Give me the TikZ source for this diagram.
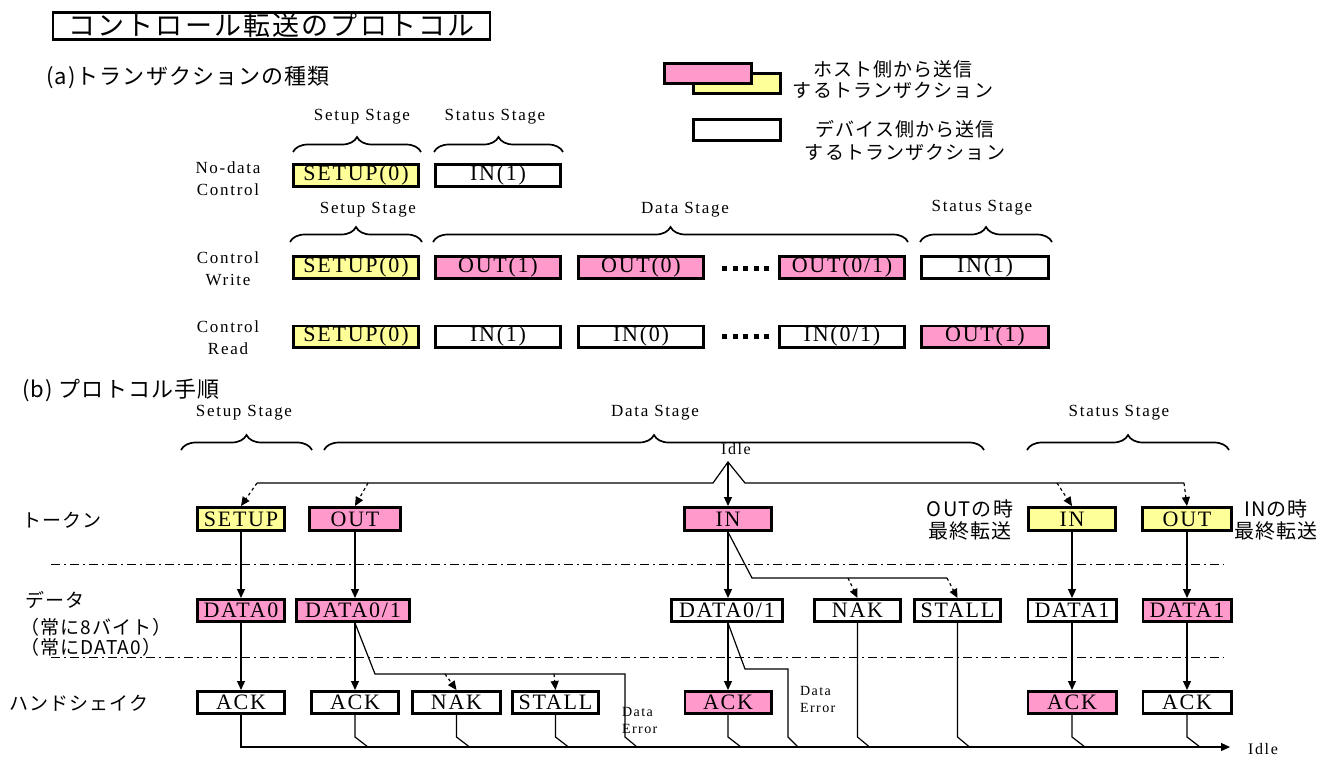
\documentclass[tikz,border=0pt]{standalone}
\usepackage{fontspec}
\setmainfont{Liberation Serif}
\newfontfamily\jpt{Noto Sans CJK JP}[LetterSpace=8]
\newfontfamily\jpa{Noto Sans CJK JP}[LetterSpace=5]
\newfontfamily\jpb{Noto Sans CJK JP}[LetterSpace=6]
\newfontfamily\lsf{Liberation Serif}[LetterSpace=10]
\newfontfamily\bxf{Liberation Serif}[LetterSpace=8]
\usetikzlibrary{arrows.meta,decorations.pathreplacing}
\definecolor{pinkf}{HTML}{FF99CC}
\definecolor{yellowf}{HTML}{FFFF99}
\tikzset{
  bx/.style={draw, line width=2.8pt, inner sep=0pt, font=\bxf\fontsize{22}{24}\selectfont},
  hostp/.style={bx, fill=pinkf},
  hosty/.style={bx, fill=yellowf},
  dev/.style={bx, fill=white},
  wh/.style 2 args={minimum width=#1pt-2.8pt, minimum height=#2pt-2.8pt},
  stagelbl/.style={font=\lsf\fontsize{17}{19}\selectfont, inner sep=0pt},
  rowlbl/.style={font=\lsf\fontsize{17}{22}\selectfont, align=center, inner sep=0pt},
  jplbl/.style={font=\jpb\fontsize{19}{21}\selectfont, inner sep=0pt, anchor=west},
  smalllbl/.style={font=\lsf\fontsize{14}{17}\selectfont, inner sep=0pt, align=left, anchor=west},
  brc/.style={decorate, decoration={brace, amplitude=15pt}, line width=1.7pt},
  conn/.style={line width=1.2pt},
  arr/.style={conn, -{Triangle[length=9pt,width=8pt]}},
  darr/.style={conn, dashed, -{Triangle[length=9pt,width=8pt]}},
  sep/.style={line width=1pt, dash pattern=on 9pt off 4pt on 2pt off 4pt},
  dots/.style={line width=5pt, dash pattern=on 5pt off 5.5pt},
}
\begin{document}
\begin{tikzpicture}[x=1pt,y=-1pt]
\useasboundingbox (0,0) rectangle (1325,756);
\fill[white] (0,0) rectangle (1325,756);

% ---------- title ----------
\node[draw, line width=2.4pt, minimum width=437pt, minimum height=27pt, inner sep=0pt] (title) at (271.5,26)
  {\jpt\fontsize{27}{28}\selectfont\underline{コントロール転送のプロトコル}};
\node[font=\jpa\fontsize{22}{24}\selectfont, inner sep=0pt, anchor=west] (ahead) at (46,78) {(a)トランザクションの種類};

% ---------- legend ----------
\node[hosty, wh={90}{23}] (legy) at (737,83.5) {};
\node[hostp, wh={90}{23}] (legp) at (708,73.5) {};
\node[dev, wh={90}{24}] (legw) at (737,130) {};
\node[font=\jpb\fontsize{19}{21}\selectfont, align=center, inner sep=0pt] (legpt) at (893,80) {ホスト側から送信\\するトランザクション};
\node[font=\jpb\fontsize{19}{23}\selectfont, align=center, inner sep=0pt] (legwt) at (905,141) {デバイス側から送信\\するトランザクション};

% ---------- (a) row 1 ----------
\node[stagelbl] (a1st) at (362,117) {Setup Stage};
\node[stagelbl] (a1ss) at (495,117) {Status Stage};
\draw[brc] (293,152) -- (421,152);
\draw[brc] (434,152) -- (563,152);
\node[rowlbl] (a1l) at (228,179) {No-data\\Control};
\node[hosty, wh={128}{25}] (a1s) at (356,175.5) {SETUP(0)};
\node[dev, wh={128}{25}] (a1i) at (498,175.5) {IN(1)};

% ---------- (a) row 2 ----------
\node[stagelbl] (a2st) at (368,210) {Setup Stage};
\node[stagelbl] (a2ds) at (685,210) {Data Stage};
\node[stagelbl] (a2ss) at (982,208) {Status Stage};
\draw[brc] (290,242) -- (422,242);
\draw[brc] (433,242) -- (908,242);
\draw[brc] (920,242) -- (1052,242);
\node[rowlbl] (a2l) at (228,269) {Control\\Write};
\node[hosty, wh={128}{25}] (a2s) at (356,267.5) {SETUP(0)};
\node[hostp, wh={128}{25}] (a2o1) at (498,267.5) {OUT(1)};
\node[hostp, wh={128}{25}] (a2o0) at (641,267.5) {OUT(0)};
\draw[dots] (722,268) -- (772,268);
\node[hostp, wh={128}{25}] (a2o01) at (842,267.5) {OUT(0/1)};
\node[dev, wh={130}{25}] (a2i) at (985,267.5) {IN(1)};

% ---------- (a) row 3 ----------
\node[rowlbl] (a3l) at (228,338) {Control\\Read};
\node[hosty, wh={128}{24}] (a3s) at (356,336.5) {SETUP(0)};
\node[dev, wh={128}{24}] (a3i1) at (498,336.5) {IN(1)};
\node[dev, wh={128}{24}] (a3i0) at (641,336.5) {IN(0)};
\draw[dots] (722,336) -- (772,336);
\node[dev, wh={128}{24}] (a3i01) at (842,336.5) {IN(0/1)};
\node[hostp, wh={130}{24}] (a3o) at (985,336.5) {OUT(1)};

% ---------- (b) ----------
\node[font=\jpa\fontsize{22}{24}\selectfont, inner sep=0pt, anchor=west] (bhead) at (22,390) {(b) プロトコル手順};
\node[stagelbl] (bst) at (244,413) {Setup Stage};
\node[stagelbl] (bds) at (655,413) {Data Stage};
\node[stagelbl] (bss) at (1119,413) {Status Stage};
\draw[brc] (181,450) -- (312,450);
\draw[brc] (324,450) -- (984,450);
\draw[brc] (1027,450) -- (1229,450);
\node[font=\lsf\fontsize{16}{17}\selectfont, inner sep=0pt] (idle1) at (736,449) {Idle};

% row labels
\node[jplbl] (ltok) at (22,520) {トークン};
\node[jplbl] (ldat) at (25,600) {データ};
\node[jplbl] (ldat2) at (20,627) {（常に8バイト）};
\node[jplbl] (ldat3) at (20,647) {（常にDATA0）};
\node[jplbl] (lhs) at (9,703) {ハンドシェイク};
\node[font=\jpb\fontsize{20}{22}\selectfont, align=center, inner sep=0pt] (nOut) at (970,520) {OUTの時\\最終転送};
\node[font=\jpb\fontsize{20}{22}\selectfont, align=center, inner sep=0pt] (nIn) at (1276,520) {INの時\\最終転送};

% separators
\coordinate (s1l) at (51,564); \coordinate (s1r) at (1224,564);
\coordinate (s2l) at (51,657); \coordinate (s2r) at (1224,657);
\draw[sep] (s1l) -- (s1r);
\draw[sep] (s2l) -- (s2r);

% token row
\node[hosty, wh={90}{26}] (tSetup) at (241,519) {SETUP};
\node[hostp, wh={94}{26}] (tOut) at (355,519) {OUT};
\node[hostp, wh={90}{26}] (tIn) at (728,519) {IN};
\node[hosty, wh={90}{26}] (tInS) at (1072,519) {IN};
\node[hosty, wh={92}{26}] (tOutS) at (1187,519) {OUT};

% data row
\node[hostp, wh={90}{25}] (dData0) at (241,610.5) {DATA0};
\node[hostp, wh={116}{25}] (dData01) at (353,610.5) {DATA0/1};
\node[dev, wh={114}{25}] (dData01w) at (727,610.5) {DATA0/1};
\node[dev, wh={89}{25}] (dNak) at (857.5,610.5) {NAK};
\node[dev, wh={89}{25}] (dStall) at (957.5,610.5) {STALL};
\node[dev, wh={91}{25}] (dData1w) at (1072,610.5) {DATA1};
\node[hostp, wh={91}{25}] (dData1p) at (1187,610.5) {DATA1};

% handshake row
\node[dev, wh={90}{25}] (hAck1) at (241,702.5) {ACK};
\node[dev, wh={90}{25}] (hAck2) at (355,702.5) {ACK};
\node[dev, wh={91}{25}] (hNak) at (456.5,702.5) {NAK};
\node[dev, wh={89}{25}] (hStall) at (555.5,702.5) {STALL};
\node[hostp, wh={89}{25}] (hAckp) at (728,702.5) {ACK};
\node[hostp, wh={91}{25}] (hAckps) at (1072,702.5) {ACK};
\node[dev, wh={91}{25}] (hAckw) at (1187,702.5) {ACK};
\node[smalllbl] (de1) at (622,720) {Data\\Error};
\node[smalllbl] (de2) at (800,699) {Data\\Error};

% top distribution
\coordinate (tl) at (257,483);
\coordinate (ob) at (368,483);
\coordinate (fl) at (713,483);
\coordinate (apex) at (728,462);
\coordinate (fr) at (745,483);
\coordinate (ib) at (1057,483);
\coordinate (tr) at (1184,483);
\draw[conn] (tl) -- (fl) -- (apex) -- (fr) -- (tr);
\draw[darr] (tl) -- (tSetup.north);
\draw[darr] (ob) -- (tOut.north);
\draw[darr] (ib) -- (tInS.north);
\draw[darr] (tr) -- (tOutS.north);
\draw[arr] (apex) -- (tIn.north);

% vertical flows
\draw[arr] (tSetup) -- (dData0);
\draw[arr] (dData0) -- (hAck1);
\draw[arr] (tOut.south) -- (tOut.south |- dData01.north);
\draw[arr] (tOut.south |- dData01.south) -- (hAck2.north);
\draw[arr] (tIn) -- (tIn |- dData01w.north);
\draw[arr] (tIn |- dData01w.south) -- (hAckp.north);
\draw[arr] (tInS) -- (dData1w);
\draw[arr] (dData1w) -- (hAckps);
\draw[arr] (tOutS) -- (dData1p);
\draw[arr] (dData1p) -- (hAckw);

% data error route 1 (OUT)
\coordinate (e1a) at (375,674);
\coordinate (e1n) at (445,674);
\coordinate (e1t) at (554,674);
\coordinate (e1b) at (625,674);
\draw[conn] (tOut.south |- dData01.south) -- (e1a) -- (e1b) -- (e1b |- 0,737) -- ++(12,10);
\draw[darr] (e1n) -- (hNak.north);
\draw[darr] (e1t) -- (hStall.north);

% IN route to NAK / STALL
\coordinate (i1) at (752,578);
\coordinate (in) at (848,578);
\coordinate (i2) at (947,578);
\draw[conn] (tIn.south) -- (i1) -- (i2);
\draw[darr] (in) -- (dNak.north);
\draw[darr] (i2) -- (dStall.north);

% data error route 2 (IN)
\coordinate (e2a) at (745,669);
\coordinate (e2b) at (788,669);
\draw[conn] (tIn |- dData01w.south) -- (e2a) -- (e2b) -- (e2b |- 0,737) -- ++(10,10);

% return lines to Idle
\coordinate (bend) at (1230,747);
\draw[arr] (hAck1.south) -- (hAck1.south |- bend) -- (bend);
\draw[conn] (hAck2.south) -- (hAck2.south |- 0,737) -- ++(13,10);
\draw[conn] (hNak.south) -- (hNak.south |- 0,737) -- ++(13,10);
\draw[conn] (hStall.south) -- (hStall.south |- 0,737) -- ++(13,10);
\draw[conn] (hAckp.south) -- (hAckp.south |- 0,737) -- ++(13,10);
\draw[conn] (dNak.south) -- (dNak.south |- 0,737) -- ++(12,10);
\draw[conn] (dStall.south) -- (dStall.south |- 0,737) -- ++(12,10);
\draw[conn] (hAckps.south) -- (hAckps.south |- 0,737) -- ++(13,10);
\draw[conn] (hAckw.south) -- (hAckw.south |- 0,737) -- ++(13,10);
\node[font=\lsf\fontsize{16}{17}\selectfont, inner sep=0pt, anchor=west] (idle2) at (1248,749) {Idle};
\end{tikzpicture}
\end{document}
